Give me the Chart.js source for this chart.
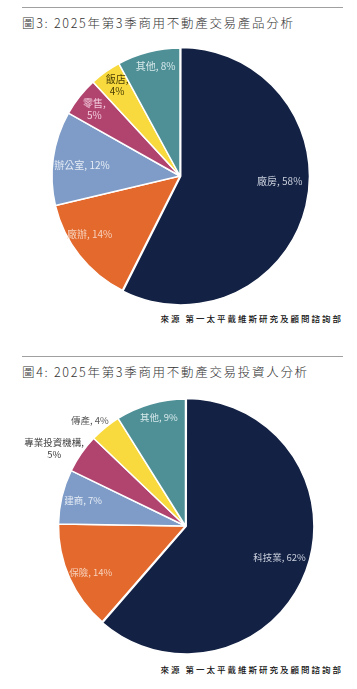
<!DOCTYPE html>
<html>
<head>
<meta charset="utf-8">
<script src="https://cdn.jsdelivr.net/npm/chart.js@4/dist/chart.umd.min.js"></script>
<style>
  html,body{margin:0;padding:0;background:#fff;width:357px;height:689px;overflow:hidden;}
  .rule{position:absolute;left:22px;width:321px;height:1px;background:#a0a0a0;}
  .title{position:absolute;left:22px;font-family:"Noto Sans CJK TC","Noto Sans",sans-serif;font-size:12.5px;font-weight:300;letter-spacing:1.7px;color:#333;white-space:nowrap;line-height:16px;}
  .src{position:absolute;right:14px;font-family:"Noto Sans CJK TC","Noto Sans",sans-serif;font-size:8.5px;letter-spacing:2px;color:#111;white-space:nowrap;line-height:10px;font-weight:500;}
  .box{position:absolute;left:0;width:357px;height:272px;}
</style>
</head>
<body>
<div class="rule" style="top:7px"></div>
<div class="title" style="top:15px">圖3: 2025年第3季商用不動產交易產品分析</div>
<div class="box" style="top:40px"><canvas id="c1"></canvas></div>
<div class="src" style="top:313px">來源 第一太平戴維斯研究及顧問諮詢部</div>

<div class="rule" style="top:356px"></div>
<div class="title" style="top:364px">圖4: 2025年第3季商用不動產交易投資人分析</div>
<div class="box" style="top:390px"><canvas id="c2"></canvas></div>
<div class="src" style="top:664px">來源 第一太平戴維斯研究及顧問諮詢部</div>

<script>
// ---- data ----
const productCategories = ["廠房", "廠辦", "辦公室", "零售", "飯店", "其他"];
const productValues = [58, 14, 12, 5, 4, 8];
const investorCategories = ["科技業", "保險", "建商", "專業投資機構", "傳產", "其他"];
const investorValues = [62, 14, 7, 5, 4, 9];
const sliceColors = ["#132144", "#E4692D", "#7E9CC7", "#B0446F", "#F8DA3E", "#4F9097"];

// ---- label plugin: positions derived from the library's arc elements ----
const sliceLabels = {
  id: "sliceLabels",
  afterDatasetsDraw(chart, args, opts) {
    const ctx = chart.ctx;
    const meta = chart.getDatasetMeta(0);
    const ds = chart.data.datasets[0];
    meta.data.forEach((arc, i) => {
      const p = arc.getProps(["x", "y", "startAngle", "endAngle", "outerRadius"], true);
      const f = (opts.angleFrac && opts.angleFrac[i] != null) ? opts.angleFrac[i] : 0.5;
      const a = p.startAngle + (p.endAngle - p.startAngle) * f;
      const r = p.outerRadius * opts.radiusFrac[i];
      const cx = chart.chartArea.left + (chart.chartArea.right - chart.chartArea.left) / 2;
      const cy = chart.chartArea.top + (chart.chartArea.bottom - chart.chartArea.top) / 2;
      const x = cx + Math.cos(a) * r;
      const y = cy + Math.sin(a) * r;
      const name = chart.data.labels[i];
      const val = ds.data[i] + "%";
      const lines = opts.wrap.includes(i) ? [name + ",", val] : [name + ", " + val];
      ctx.save();
      ctx.font = opts.font;
      ctx.fillStyle = opts.colors[i];
      ctx.textAlign = "center";
      ctx.textBaseline = "middle";
      const lh = opts.lineHeight;
      lines.forEach((t, k) => {
        ctx.fillText(t, x, y + (k - (lines.length - 1) / 2) * lh);
      });
      ctx.restore();
    });
  }
};

function makePie(id, labels, values, radius, padLeft, labelOpts) {
  return new Chart(document.getElementById(id), {
    type: "pie",
    data: {
      labels: labels,
      datasets: [{
        data: values,
        backgroundColor: sliceColors,
        borderColor: "#ffffff",
        borderWidth: 1.5,
        offset: [3, 0, 0, 0, 0, 0]
      }]
    },
    options: {
      responsive: true,
      maintainAspectRatio: false,
      animation: false,
      radius: radius,
      layout: { padding: { left: padLeft } },
      plugins: {
        legend: { display: false },
        tooltip: { enabled: false },
        sliceLabels: labelOpts
      }
    },
    plugins: [sliceLabels]
  });
}

makePie("c1", productCategories, productValues, 128, 3, {
  font: '10px "Noto Sans CJK TC", sans-serif',
  lineHeight: 12,
  radiusFrac: [0.78, 0.84, 0.77, 0.85, 0.86, 0.88],
  angleFrac: [0.45, 0.61, 0.46, 0.49, 0.56, 0.56],
  wrap: [3, 4],
  colors: ["#c9cfdc", "#f7d3bd", "#e6ecf6", "#f3c9da", "#4a3d05", "#d6e8ea"]
});

makePie("c2", investorCategories, investorValues, 127, 14, {
  font: '9.5px "Noto Sans CJK TC", sans-serif',
  lineHeight: 12,
  radiusFrac: [0.78, 0.83, 0.83, 1.2, 1.12, 0.88],
  angleFrac: [0.49, 0.46, 0.52, 0.26, 0.29, 0.57],
  wrap: [3],
  colors: ["#c9cfdc", "#f7d3bd", "#e6ecf6", "#404040", "#595959", "#d6e8ea"]
});
</script>
</body>
</html>
